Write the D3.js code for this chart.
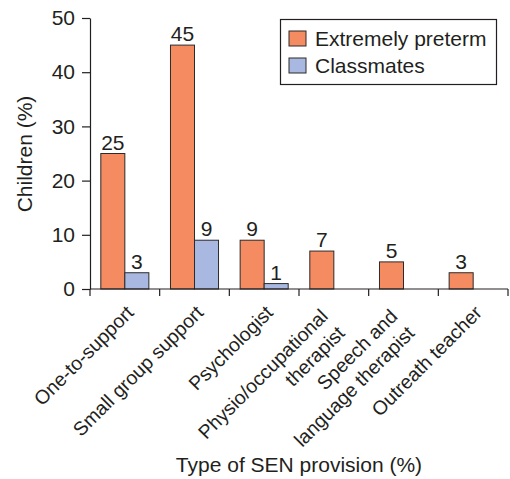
<!DOCTYPE html>
<html>
<head>
<meta charset="utf-8">
<script src="https://cdn.jsdelivr.net/npm/d3@7"></script>
<style>
  html, body { margin: 0; padding: 0; background: #fff; }
  svg { display: block; }
  text { font-family: "Liberation Sans", Arial, sans-serif; fill: #231f20; }
</style>
</head>
<body>
<svg id="chart" width="510" height="479"></svg>
<script>
const categories = [
  "One-to-support",
  "Small group support",
  "Psychologist",
  "Physio/occupational\ntherapist",
  "Speech and\nlanguage therapist",
  "Outreath teacher"
];
const seriesNames = ["Extremely preterm", "Classmates"];
const extremelyPreterm = [25, 45, 9, 7, 5, 3];
const classmates = [3, 9, 1, null, null, null];
const yTicks = [0, 10, 20, 30, 40, 50];
const colors = ["#f58b60", "#a9b8e0"];
const yTitle = "Children (%)";
const xTitle = "Type of SEN provision (%)";

const svg = d3.select("#chart");
const margin = { left: 90, right: 2, top: 18, bottom: 190 };
const W = 510, H = 479;
const plotBottom = H - margin.bottom;

const x0 = d3.scaleBand().domain(categories).range([margin.left, W - margin.right]).paddingInner(0).paddingOuter(0);
const x1 = d3.scaleBand().domain(seriesNames).range([0, x0.bandwidth()]).paddingInner(0).paddingOuter(0.45);
const y = d3.scaleLinear().domain([0, 50]).range([plotBottom, margin.top]);

const rows = categories.map((c, i) => ({ cat: c, values: [extremelyPreterm[i], classmates[i]] }));

// bars
const groups = svg.append("g").selectAll("g").data(rows).join("g")
  .attr("transform", d => `translate(${x0(d.cat)},0)`);
groups.selectAll("rect")
  .data(d => d.values.map((v, j) => ({ s: seriesNames[j], v, j })).filter(e => e.v != null))
  .join("rect")
  .attr("x", e => x1(e.s))
  .attr("y", e => y(e.v))
  .attr("width", x1.bandwidth())
  .attr("height", e => y(0) - y(e.v))
  .attr("fill", e => colors[e.j])
  .attr("stroke", "#2b2b2b")
  .attr("stroke-width", 1);
groups.selectAll("text.val")
  .data(d => d.values.map((v, j) => ({ s: seriesNames[j], v, j })).filter(e => e.v != null))
  .join("text")
  .attr("class", "val")
  .attr("x", e => x1(e.s) + x1.bandwidth() / 2)
  .attr("y", e => y(e.v) - 4)
  .attr("text-anchor", "middle")
  .attr("font-size", 21)
  .text(e => e.v);

// y axis
const yAxis = svg.append("g").attr("transform", `translate(${margin.left},0)`)
  .call(d3.axisLeft(y).tickValues(yTicks).tickSize(8).tickSizeOuter(0).tickPadding(7));
yAxis.selectAll("text").attr("font-size", 21).attr("font-family", "Liberation Sans, Arial, sans-serif").attr("fill", "#231f20");
yAxis.selectAll("line, path").attr("stroke", "#231f20").attr("stroke-width", 1.2);

// x axis line + boundary ticks
const boundaries = categories.map(c => x0(c)).concat([x0.range()[1]]);
const xAxis = svg.append("g");
xAxis.append("line")
  .attr("x1", x0.range()[0]).attr("x2", x0.range()[1])
  .attr("y1", plotBottom).attr("y2", plotBottom)
  .attr("stroke", "#231f20").attr("stroke-width", 1.2);
xAxis.selectAll("line.tick").data(boundaries).join("line")
  .attr("class", "tick")
  .attr("x1", d => d).attr("x2", d => d)
  .attr("y1", plotBottom).attr("y2", plotBottom + 7)
  .attr("stroke", "#231f20").attr("stroke-width", 1.2);

// category labels (rotated)
const labG = xAxis.selectAll("g.lab").data(categories).join("g")
  .attr("class", "lab")
  .attr("transform", d => `translate(${x0(d) + x0.bandwidth() / 2 + 10},${plotBottom + 25}) rotate(-45)`);
labG.each(function (d) {
  const lines = d.split("\n");
  const g = d3.select(this);
  lines.forEach((ln, k) => {
    let yy = 0, xx = 0;
    if (lines.length === 2) { xx = -13; yy = k === 0 ? -8 : 16; }
    g.append("text")
      .attr("x", xx).attr("y", yy)
      .attr("text-anchor", "end")
      .attr("font-size", 19.5)
      .text(ln);
  });
});

// axis titles
svg.append("text")
  .attr("transform", `translate(32,154) rotate(-90)`)
  .attr("text-anchor", "middle")
  .attr("font-size", 21)
  .text(yTitle);
svg.append("text")
  .attr("x", 299).attr("y", 472)
  .attr("text-anchor", "middle")
  .attr("font-size", 21)
  .text(xTitle);

// legend
const leg = svg.append("g");
leg.append("rect")
  .attr("x", 280.5).attr("y", 19.5).attr("width", 216).attr("height", 65)
  .attr("fill", "#fff").attr("stroke", "#231f20").attr("stroke-width", 1.2);
const li = leg.selectAll("g.li").data(seriesNames).join("g")
  .attr("class", "li")
  .attr("transform", (d, i) => `translate(289,${31 + i * 27})`);
li.append("rect")
  .attr("width", 17).attr("height", 15)
  .attr("fill", (d, i) => colors[i])
  .attr("stroke", "#2b2b2b").attr("stroke-width", 1);
li.append("text")
  .attr("x", 26).attr("y", 15)
  .attr("font-size", 21)
  .text(d => d);
</script>
</body>
</html>
